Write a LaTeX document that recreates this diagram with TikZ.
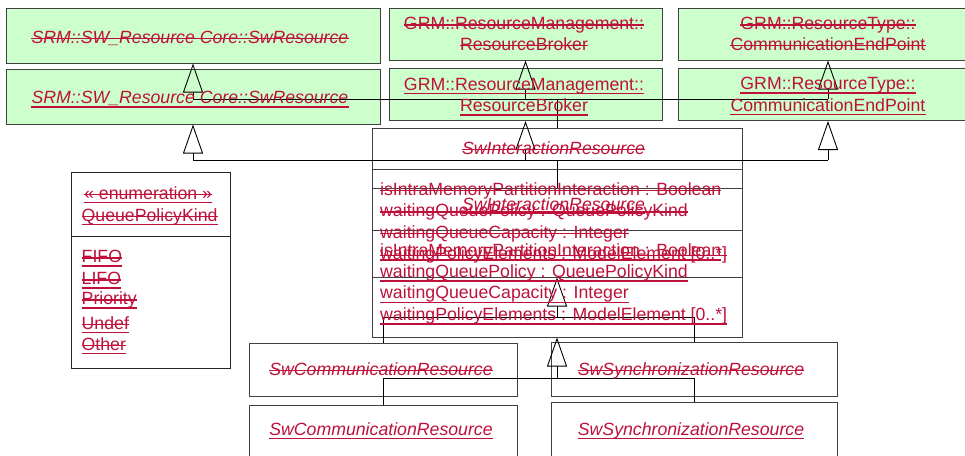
\documentclass[tikz,border=0pt]{standalone}
\usepackage{fontspec}
\setmainfont{Liberation Sans}
\usepackage{xcolor}
\usepackage{tikz}
\usetikzlibrary{positioning,arrows.meta}

\definecolor{chg}{RGB}{190,16,58}
\definecolor{umlgreen}{RGB}{204,255,204}

\begin{document}
\begin{tikzpicture}[x=1pt, y=-1pt,
  classbox/.style={draw=black!75, line width=1pt, inner sep=0pt},
  greenbox/.style={classbox, fill=umlgreen},
  txt/.style={font=\fontsize{17.7}{21}\selectfont, text=chg, inner sep=0pt},
  itxt/.style={txt, font=\fontsize{17.7}{21}\selectfont\itshape},
  strike/.style={chg, line width=1.4pt},
  uline/.style={chg, line width=1.8pt},
  inh/.style={-{Triangle[open, length=29pt, width=20pt]}, line width=0.9pt},
  conn/.style={line width=0.9pt}]

\useasboundingbox (0,0) rectangle (965,455);
\clip (0,0) rectangle (965,455);

% Parent classes (old and new)
\node[greenbox, minimum width=374pt, minimum height=55pt] (srOld) at (193,35.5) {};
\node[greenbox, minimum width=374pt, minimum height=55pt] (srNew) at (193,96.5) {};
\node[greenbox, minimum width=273pt, minimum height=52pt] (brOld) at (525.5,34) {};
\node[greenbox, minimum width=273pt, minimum height=52pt] (brNew) at (525.5,94.5) {};
\node[greenbox, minimum width=300pt, minimum height=52pt] (cepOld) at (828,34) {};
\node[greenbox, minimum width=300pt, minimum height=52pt] (cepNew) at (828,94.5) {};

% SwInteractionResource
\node[classbox, minimum width=370pt, minimum height=149pt] (irOld) at (557,202.5) {};
\node[classbox, minimum width=370pt, minimum height=149pt] (irNew) at (557,262.5) {};
\draw[classbox] ([yshift=-42pt]irOld.north west) -- ([yshift=-42pt]irOld.north east);
\draw[classbox] ([yshift=-43pt]irNew.north west) -- ([yshift=-43pt]irNew.north east);

% Enumeration
\node[classbox, draw=black!85, minimum width=159pt, minimum height=196pt] (enumBox) at (150.5,270) {};
\draw[classbox, draw=black!85] ([yshift=-65pt]enumBox.north west) -- ([yshift=-65pt]enumBox.north east);

% Sub classes
\node[classbox, minimum width=268pt, minimum height=53pt] (commOld) at (383,369.5) {};
\node[classbox, minimum width=268pt, minimum height=53pt] (commNew) at (383,431.5) {};
\node[classbox, minimum width=286pt, minimum height=54pt] (syncOld) at (694,369) {};
\node[classbox, minimum width=286pt, minimum height=54pt] (syncNew) at (694,429) {};

% Generalizations
\coordinate (busOldTop) at (557,99);
\coordinate (busNewTop) at (557,160);
\coordinate (busOldBot) at (557,317);
\coordinate (busNewBot) at (557,378);

\draw[conn] (busOldTop -| srOld.south) -- (busOldTop -| cepOld.south);
\draw[conn] (busOldTop) -- (irOld.north);
\draw[inh] (busOldTop -| srOld.south) -- (srOld.south);
\draw[inh] (busOldTop -| brOld.south) -- (brOld.south);
\draw[inh] (busOldTop -| cepOld.south) -- (cepOld.south);

\draw[conn] (busNewTop -| srNew.south) -- (busNewTop -| cepNew.south);
\draw[conn] (busNewTop) -- (irNew.north);
\draw[inh] (busNewTop -| srNew.south) -- (srNew.south);
\draw[inh] (busNewTop -| brNew.south) -- (brNew.south);
\draw[inh] (busNewTop -| cepNew.south) -- (cepNew.south);

\draw[inh] (busOldBot) -- (irOld.south);
\draw[conn] (commOld.north) -- (busOldBot -| commOld.north) -- (busOldBot -| syncOld.north) -- (syncOld.north);
\draw[inh] (busNewBot) -- (irNew.south);
\draw[conn] (commNew.north) -- (busNewBot -| commNew.north) -- (busNewBot -| syncNew.north) -- (syncNew.north);

% Texts
\node[itxt, anchor=base] (srOldT) at (190,43) {SRM::SW\_Resource Core::SwResource};
\node[itxt, anchor=base] (srNewT) at (190,103.5) {SRM::SW\_Resource Core::SwResource};
\node[txt, anchor=base] (brOldT1) at (524,29.5) {GRM::ResourceManagement::};
\node[txt, anchor=base] (brOldT2) at (524,50) {ResourceBroker};
\node[txt, anchor=base] (brNewT1) at (524,90) {GRM::ResourceManagement::};
\node[txt, anchor=base] (brNewT2) at (524,111.5) {ResourceBroker};
\node[txt, anchor=base] (cepOldT1) at (828,29.5) {GRM::ResourceType::};
\node[txt, anchor=base] (cepOldT2) at (828,50) {CommunicationEndPoint};
\node[txt, anchor=base] (cepNewT1) at (828,89.5) {GRM::ResourceType::};
\node[txt, anchor=base] (cepNewT2) at (828,111) {CommunicationEndPoint};
\node[itxt, anchor=base] (irOldT) at (553.5,154) {SwInteractionResource};
\node[itxt, anchor=base] (irNewT) at (553.5,210) {SwInteractionResource};
\node[itxt, anchor=base] (commOldT) at (381,375) {SwCommunicationResource};
\node[itxt, anchor=base] (commNewT) at (381,435) {SwCommunicationResource};
\node[itxt, anchor=base] (syncOldT) at (691,375) {SwSynchronizationResource};
\node[itxt, anchor=base] (syncNewT) at (691,435) {SwSynchronizationResource};

% Attributes
\foreach \t [count=\i, evaluate=\i as \ya using {195+21.6*(\i-1)}, evaluate=\i as \yb using {256.5+21.2*(\i-1)}] in
  {{isIntraMemoryPartitionInteraction : Boolean}, {waitingQueuePolicy : QueuePolicyKind},
   {waitingQueueCapacity : Integer}, {waitingPolicyElements : ModelElement [0{.}{.}*]}} {
  \node[txt, anchor=base west] (attOld\i) at (380,\ya) {\t};
  \node[txt, anchor=base west] (attNew\i) at (380,\yb) {\t};
  \draw[strike] ([yshift=4.5pt]attOld\i.base west) -- ([yshift=4.5pt]attOld\i.base east);
  \draw[uline] ([yshift=-3.5pt]attNew\i.base west) -- ([yshift=-3.5pt]attNew\i.base east);
}

% Enumeration literals
\foreach \x/\y/\t [count=\i] in {84/199/{« enumeration »}, 81.5/221/QueuePolicyKind, 81.5/262.5/FIFO,
  81.5/284.5/LIFO, 81.5/304.5/Priority, 81.5/329/Undef, 81.5/350/Other} {
  \node[txt, anchor=base west] (enT\i) at (\x,\y) {\t};
  \draw[strike] ([yshift=4.5pt]enT\i.base west) -- ([yshift=4.5pt]enT\i.base east);
  \draw[uline] ([yshift=-3.5pt]enT\i.base west) -- ([yshift=-3.5pt]enT\i.base east);
}

% Deleted and inserted marks
\foreach \n in {srOldT, brOldT1, brOldT2, cepOldT1, cepOldT2, irOldT, commOldT, syncOldT}
  \draw[strike] ([yshift=4.5pt]\n.base west) -- ([yshift=4.5pt]\n.base east);
\foreach \n in {srNewT, brNewT1, brNewT2, cepNewT1, cepNewT2, irNewT, commNewT, syncNewT}
  \draw[uline] ([yshift=-3.5pt]\n.base west) -- ([yshift=-3.5pt]\n.base east);

\end{tikzpicture}
\end{document}
